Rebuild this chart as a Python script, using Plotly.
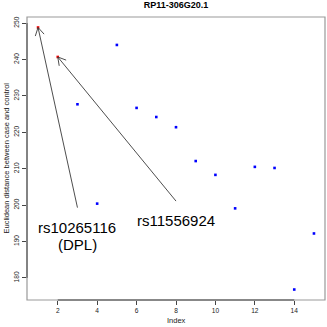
import math
import plotly.graph_objects as go

# distance values by index
index = list(range(1, 16))
distance = [248.8, 240.7, 227.7, 200.4, 244.0, 226.7, 224.2, 221.4,
            212.1, 208.3, 199.1, 210.5, 210.2, 176.8, 192.2]
highlight = [1, 2]  # indexes drawn red

# arrows: tail (near the label) -> head (at the point)
arrow_tail_x = [3, 8]
arrow_tail_y = [199.3, 201.1]
arrow_head_x = [1, 2]
arrow_head_y = [248.8, 240.7]

label_text = ["rs10265116", "(DPL)", "rs11556924"]
label_x = [3, 3, 8]
label_y = [193.9, 189.3, 195.9]

W, H = 327, 327
ML, MR, MT, MB = 27, 2, 17, 27

# R style axis range: 4% padding around data
xr = [min(index) - 0.04 * (max(index) - min(index)), max(index) + 0.04 * (max(index) - min(index))]
yspan = max(distance) - min(distance)
yr = [min(distance) - 0.04 * yspan, max(distance) + 0.04 * yspan]

pw, ph = W - ML - MR, H - MT - MB
sx = pw / (xr[1] - xr[0])
sy = ph / (yr[1] - yr[0])

FONT = "Liberation Sans, Arial, sans-serif"

fig = go.Figure()

colors = ["red" if i in highlight else "blue" for i in index]
fig.add_trace(go.Scatter(x=index, y=distance, mode="markers",
                         marker=dict(symbol="square", size=2.6, color=colors, line_width=0),
                         hoverinfo="skip"))

# arrow shafts + open V heads (R arrows(): 30 deg, ~9px)
ax_, ay_ = [], []
head_len = 9
for tx, ty, hx, hy in zip(arrow_tail_x, arrow_tail_y, arrow_head_x, arrow_head_y):
    ax_ += [tx, hx, None]
    ay_ += [ty, hy, None]
    # direction back toward the tail, in pixel space (y grows downward)
    dx = (tx - hx) * sx
    dy = -(ty - hy) * sy
    ang = math.atan2(dy, dx)
    for s in (-1, 1):
        a = ang + s * math.radians(30)
        px = hx + head_len * math.cos(a) / sx
        py = hy - head_len * math.sin(a) / sy
        ax_ += [hx, px, None]
        ay_ += [hy, py, None]
fig.add_trace(go.Scatter(x=ax_, y=ay_, mode="lines",
                         line=dict(color="#3a3a3a", width=0.9), hoverinfo="skip"))

annotations = []
for t, x, y in zip(label_text, label_x, label_y):
    annotations.append(dict(x=x, y=y, xref="x", yref="y", text=t, showarrow=False,
                            font=dict(family=FONT, size=15, color="black"),
                            xanchor="center", yanchor="middle"))
annotations.append(dict(x=0.5, y=0, xref="paper", yref="paper", text="Index", showarrow=False,
                        font=dict(family=FONT, size=7.5, color="#222"), yanchor="middle", yshift=-20))
annotations.append(dict(x=0, y=0.5, xref="paper", yref="paper",
                        text="Euclidean distance between case and control", showarrow=False,
                        textangle=-90, font=dict(family=FONT, size=7.5, color="#222"),
                        xanchor="center", xshift=-21))

shapes = [
    dict(type="rect", xref="paper", yref="paper", x0=0, x1=1, y0=0, y1=1,
         line=dict(color="#999", width=1.2)),
    dict(type="line", xref="x", yref="paper", x0=2, x1=14, y0=0, y1=0,
         line=dict(color="#444", width=1)),
    dict(type="line", xref="paper", yref="y", x0=0, x1=0, y0=180, y1=250,
         line=dict(color="#444", width=1)),
]

fig.update_layout(
    width=W, height=H,
    margin=dict(l=ML, r=MR, t=MT, b=MB),
    paper_bgcolor="white", plot_bgcolor="white",
    showlegend=False,
    title=dict(text="<b>RP11-306G20.1</b>", x=(ML + pw / 2) / W, xanchor="center",
               y=1 - 5 / H, yref="container", yanchor="middle",
               font=dict(family=FONT, size=9, color="black")),
    annotations=annotations,
    shapes=shapes,
    xaxis=dict(range=xr, tickvals=list(range(2, 15, 2)), ticks="outside", ticklen=4,
               tickcolor="#444", showgrid=False, zeroline=False, showline=False,
               tickfont=dict(family=FONT, size=6.6, color="#222")),
    yaxis=dict(range=yr, tickvals=list(range(180, 251, 10)), ticks="outside", ticklen=4,
               tickcolor="#444", showgrid=False, zeroline=False, showline=False,
               tickangle=-90, tickfont=dict(family=FONT, size=6.6, color="#222")),
)

fig.write_html("out.html", config={"displayModeBar": False},
               post_script="document.body.style.margin='0';document.body.style.padding='0';")
